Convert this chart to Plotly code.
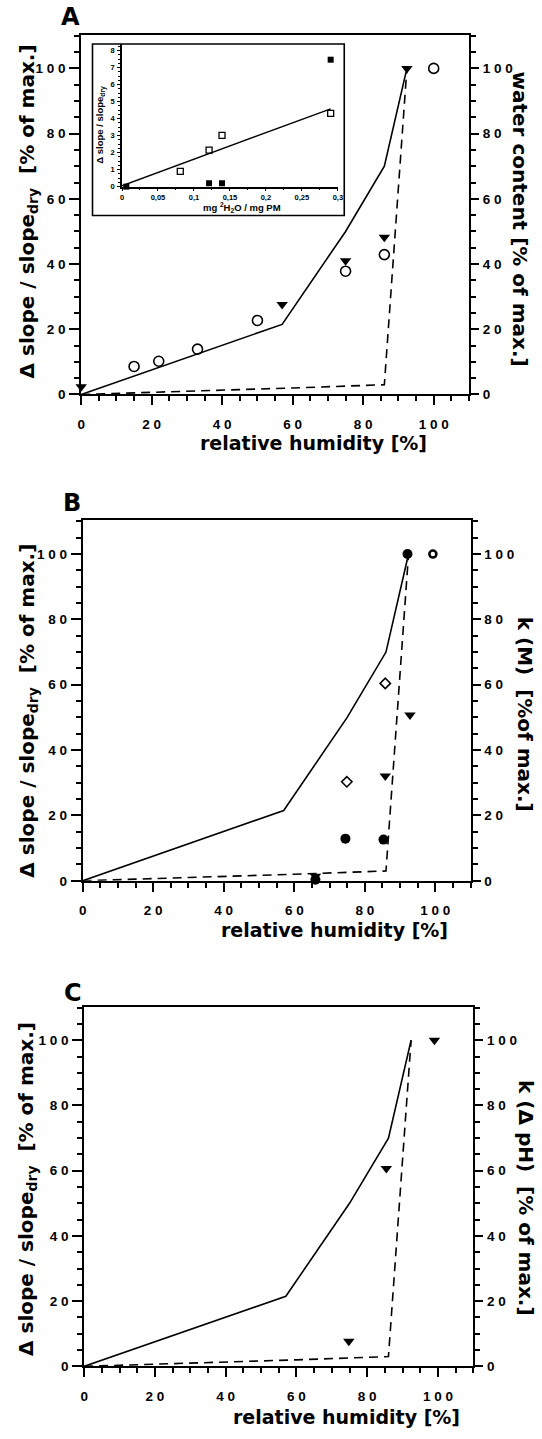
import plotly.graph_objects as go

W, H = 542, 1439


def px(x):
    return x / W


def py(y):
    return 1 - y / H


# ---------------- data ----------------
# model curves (same in every panel)
rh_solid = [0, 57, 75, 86, 92.4]
val_solid = [0, 21.5, 50, 70, 100]
rh_dash = [0, 20, 40, 60, 86, 92.4]
val_dash = [0, 0.6, 1.3, 2.0, 3.0, 100]

# panel A
A_circ_rh = [15, 22, 33, 50, 75, 86, 100]
A_circ_val = [8.6, 10.2, 13.9, 22.7, 37.8, 42.9, 100]
A_tri_rh = [0, 57, 75, 86, 92.4]
A_tri_val = [2.4, 27.6, 41, 48.2, 100]

# inset of panel A
ins_open_x = [0.081, 0.121, 0.139, 0.29]
ins_open_y = [0.9, 2.15, 3.02, 4.31]
ins_fill_x = [0.006, 0.121, 0.139, 0.29]
ins_fill_y = [0.0, 0.2, 0.2, 7.47]
ins_fit_x = [0, 0.29]
ins_fit_y = [0.05, 4.58]

# panel B
B_fcirc_rh = [66, 74.5, 85.3, 92.1]
B_fcirc_val = [0.3, 12.9, 12.6, 100]
B_diam_rh = [74.9, 85.8]
B_diam_val = [30.3, 60.4]
B_tri_rh = [66, 85.8, 92.8]
B_tri_val = [1.4, 32.1, 50.7]
B_ocirc_rh = [99.3]
B_ocirc_val = [100]

# panel C
C_tri_rh = [74.8, 85.4, 99.0]
C_tri_val = [7.7, 60.7, 100]

tick_vals = [0, 20, 40, 60, 80, 100]
tick_text = ["0", "2 0", "4 0", "6 0", "8 0", "1 0 0"]

ins_xvals = [0, 0.05, 0.1, 0.15, 0.2, 0.25, 0.3]
ins_xtext = ["0", "0,05", "0,1", "0,15", "0,2", "0,25", "0,3"]
ins_yvals = [0, 1, 2, 3, 4, 5, 6, 7, 8]
ins_ytext = [str(v) for v in ins_yvals]

FONT = "Liberation Sans, Arial, Helvetica, sans-serif"
TFONT = "DejaVu Sans, Verdana, sans-serif"

fig = go.Figure()


def add_line(xa, ya, x, y, dash=None, width=1.6):
    fig.add_trace(go.Scatter(x=x, y=y, mode="lines",
                             line=dict(color="black", width=width, dash=dash),
                             xaxis=xa, yaxis=ya, showlegend=False, hoverinfo="skip"))


def add_markers(xa, ya, x, y, symbol, size, lw=1.6):
    fig.add_trace(go.Scatter(x=x, y=y, mode="markers", cliponaxis=False,
                             marker=dict(symbol=symbol, size=size, color="black",
                                         line=dict(color="black", width=lw)),
                             xaxis=xa, yaxis=ya, showlegend=False, hoverinfo="skip"))


# panel A
add_line("x", "y", rh_solid, val_solid)
add_line("x", "y2", rh_dash, val_dash, "9px,6px")
add_markers("x", "y", A_circ_rh, A_circ_val, "circle-open", 10)
add_markers("x", "y", A_tri_rh, A_tri_val, "triangle-down", 10, 0)
# inset
add_line("x2", "y3", ins_fit_x, ins_fit_y, None, 1.4)
add_markers("x2", "y3", ins_open_x, ins_open_y, "square-open", 6, 1.3)
add_markers("x2", "y3", ins_fill_x, ins_fill_y, "square", 6, 0)
# panel B
add_line("x3", "y4", rh_solid, val_solid)
add_line("x3", "y5", rh_dash, val_dash, "9px,6px")
add_markers("x3", "y4", B_fcirc_rh, B_fcirc_val, "circle", 10, 0)
add_markers("x3", "y4", B_diam_rh, B_diam_val, "diamond-open", 8, 1.6)
add_markers("x3", "y4", B_tri_rh, B_tri_val, "triangle-down", 10, 0)
add_markers("x3", "y4", B_ocirc_rh, B_ocirc_val, "circle-open", 7, 2.6)
# panel C
add_line("x4", "y6", rh_solid, val_solid)
add_line("x4", "y7", rh_dash, val_dash, "9px,6px")
add_markers("x4", "y6", C_tri_rh, C_tri_val, "triangle-down", 10, 0)

tickfont = dict(family=FONT, size=13.5, color="black", weight="bold")
minor = dict(ticks="outside", ticklen=5, tickwidth=1.5, tickcolor="black",
             tickmode="linear", tick0=0, dtick=5, showgrid=False)


def xaxis(dom, anchor):
    return dict(domain=dom, anchor=anchor, range=[0, 110], showline=True,
                linewidth=2, linecolor="black", mirror=True, showgrid=False,
                zeroline=False, ticks="outside", ticklen=9, tickwidth=2,
                tickcolor="black", tickmode="array", tickvals=tick_vals,
                ticktext=tick_text, tickfont=tickfont, ticklabelstandoff=7,
                minor=minor)


def yaxis(dom, anchor, side="left", overlaying=None):
    d = dict(anchor=anchor, range=[0, 110.3], showline=True, linewidth=2,
             linecolor="black", showgrid=False, zeroline=False, ticks="outside",
             ticklen=10 if side == "left" else 8, tickwidth=2, tickcolor="black",
             tickmode="array", tickvals=tick_vals, ticktext=tick_text,
             tickfont=tickfont, side=side, minor=minor, ticklabelstandoff=1)
    if overlaying:
        d["overlaying"] = overlaying
    else:
        d["domain"] = dom
    return d


A_x = [px(78.5), px(472.8)]
A_y = [py(396.7), py(35)]
B_x = [px(80), px(474.5)]
B_y = [py(885.7), py(523.3)]
C_x = [px(81.5), px(477.3)]
C_y = [py(1374), py(1012.3)]
I_x = [px(120), px(339.5)]
I_y = [py(187.7), py(44.3)]

small = dict(family=FONT, size=7.5, color="black", weight="bold")

fig.update_layout(
    width=W, height=H, margin=dict(l=0, r=0, t=0, b=0),
    paper_bgcolor="white", plot_bgcolor="rgba(0,0,0,0)",
    font=dict(family=FONT, color="black"),
    xaxis=xaxis(A_x, "y"),
    yaxis=yaxis(A_y, "x"),
    yaxis2=yaxis(None, "x", "right", "y"),
    xaxis2=dict(domain=I_x, anchor="y3", range=[0, 0.3], showline=True,
                linewidth=1.5, linecolor="black", showgrid=False, zeroline=False,
                ticks="outside", ticklen=3, tickwidth=1.2, tickcolor="black",
                tickmode="array", tickvals=ins_xvals, ticktext=ins_xtext,
                tickfont=small, ticklabelstandoff=0,
                minor=dict(ticks="outside", ticklen=2, tickwidth=1, tickcolor="black",
                           tickmode="linear", tick0=0, dtick=0.025)),
    yaxis3=dict(domain=I_y, anchor="x2", range=[0, 8.39], showline=True,
                linewidth=1.5, linecolor="black", showgrid=False, zeroline=False,
                ticks="outside", ticklen=3, tickwidth=1.2, tickcolor="black",
                tickmode="array", tickvals=ins_yvals, ticktext=ins_ytext,
                tickfont=small, ticklabelstandoff=1,
                minor=dict(ticks="outside", ticklen=2, tickwidth=1, tickcolor="black",
                           tickmode="linear", tick0=0, dtick=0.25)),
    xaxis3=xaxis(B_x, "y4"),
    yaxis4=yaxis(B_y, "x3"),
    yaxis5=yaxis(None, "x3", "right", "y4"),
    xaxis4=xaxis(C_x, "y6"),
    yaxis6=yaxis(C_y, "x4"),
    yaxis7=yaxis(None, "x4", "right", "y6"),
)

# inset frame
fig.add_shape(type="rect", xref="paper", yref="paper",
              x0=px(90), x1=px(346), y0=py(216.7), y1=py(44.3),
              line=dict(color="black", width=1.6), fillcolor="rgba(0,0,0,0)")

big = dict(family=TFONT, size=19, color="black", weight="bold")
vbig = dict(family=TFONT, size=20, color="black", weight="bold")
letter = dict(family=TFONT, size=24, color="black", weight="bold")
NB = "\u00a0"

annots = [
    # panel letters
    (68, 17.5, "A", 0, letter),
    (69.5, 506, "B", 0, letter),
    (70.5, 999, "C", 0, letter),
    # x titles
    (315, 445, "relative humidity [%]", 0, big),
    (336, 935, "relative humidity [%]", 0, big),
    (348, 1425, "relative humidity [%]", 0, big),
    # left titles
    (24, 213, f"Δ slope / slope<sub>dry</sub>{NB}{NB}[% of max.]", -90, vbig),
    (24, 715, f"Δ slope / slope<sub>dry</sub>{NB}{NB}[% of max.]", -90, vbig),
    (24, 1196, f"Δ slope / slope<sub>dry</sub>{NB}{NB}[% of max.]", -90, vbig),
    # right titles
    (525, 220, "water content [% of max.]", 90, vbig),
    (530, 718, f"k (M){NB}{NB}[%of max.]", 90, vbig),
    (530, 1205, f"k (Δ pH){NB}{NB}[% of max.]", 90, vbig),
    # inset titles
    (242, 209, "mg <sup>2</sup>H<sub>2</sub>O / mg PM", 0,
     dict(family=FONT, size=9.5, color="black", weight="bold")),
    (98, 125, "Δ slope / slope<sub>dry</sub>", -90,
     dict(family=FONT, size=9.5, color="black", weight="bold")),
]
for x, y, t, ang, f in annots:
    fig.add_annotation(x=px(x), y=py(y), xref="paper", yref="paper", text=t,
                       showarrow=False, textangle=ang, font=f,
                       xanchor="center", yanchor="middle")

fig.write_html("out.html", config={"displayModeBar": False},
               post_script="document.body.style.margin='0';")
